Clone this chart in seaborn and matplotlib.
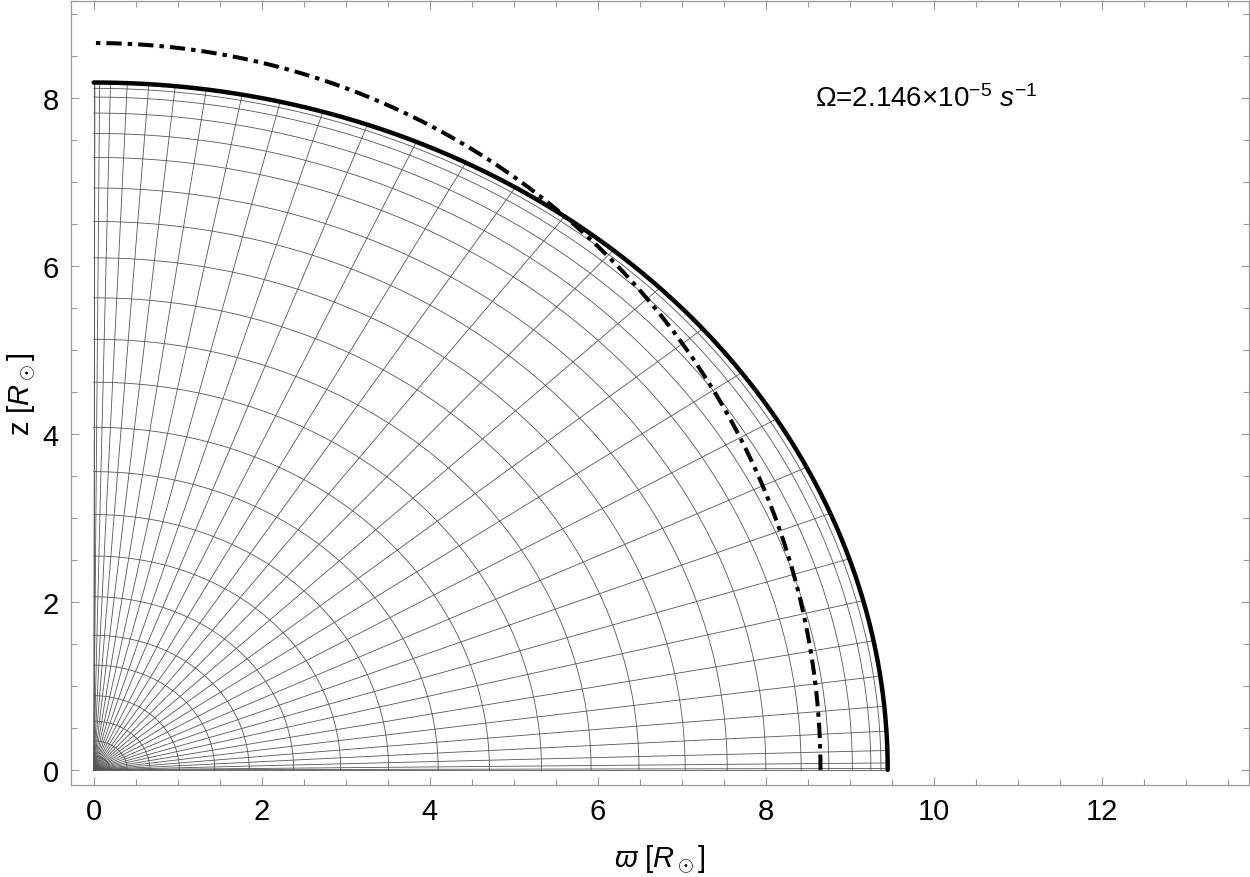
import numpy as np
import pandas as pd
import seaborn as sns
import matplotlib
matplotlib.use("Agg")
import matplotlib.pyplot as plt
from matplotlib.ticker import MultipleLocator

# radii (solar radii)
r_equator = 9.45      # solid surface, equatorial radius
r_pole = 8.18         # solid surface, polar radius
r_sphere = 8.65       # dash-dot circle
omega_label = r"$\Omega$=2.146×10$^{-5}$ $s^{-1}$"

# inner shells, where they cross the equator
shell_r = [0.08, 0.19, 0.40, 0.67, 1.02, 1.44, 1.85, 2.38, 2.94, 3.51, 4.10,
           4.71, 5.33, 5.92, 6.49, 7.04, 7.54, 8.00, 8.42, 8.75, 9.03, 9.25,
           9.37]

# latitude of the radial grid lines (degrees from the equator)
ray_lat = [0.0, 0.1, 0.5, 1.4, 2.8, 4.6, 6.8, 9.4, 12.4, 15.6, 19.2, 23.0,
           27.2, 31.5, 35.9, 40.4, 45.0, 49.6, 54.1, 58.5, 62.8, 67.0, 70.8,
           74.4, 77.6, 80.6, 83.2, 85.4, 87.2, 88.6, 89.5, 89.9, 90.0]


def surface(lat, scale=1.0):
    c, s = np.cos(lat), np.sin(lat)
    r = 1.0 / np.sqrt((c / r_equator) ** 2 + (s / r_pole) ** 2)
    return scale * r * c, scale * r * s


lat = np.linspace(0, np.pi / 2, 400)

rows = []
for i, rr in enumerate(shell_r):
    x, z = surface(lat, rr / r_equator)
    rows.append(pd.DataFrame({"x": x, "z": z, "id": f"s{i}"}))
for i, a in enumerate(ray_lat):
    xe, ze = surface(np.radians(a))
    rows.append(pd.DataFrame({"x": [0, xe], "z": [0, ze], "id": f"r{i}"}))
grid_df = pd.concat(rows, ignore_index=True)

xs, zs = surface(lat)
surf_df = pd.DataFrame({"x": xs, "z": zs})
sph_df = pd.DataFrame({"x": r_sphere * np.cos(lat), "z": r_sphere * np.sin(lat)})

sns.set_theme(style="ticks")
plt.rcParams["font.family"] = ["Liberation Sans", "DejaVu Sans"]
plt.rcParams["mathtext.fontset"] = "custom"
plt.rcParams["mathtext.rm"] = "Liberation Sans"
plt.rcParams["mathtext.it"] = "Liberation Sans:italic"
plt.rcParams["mathtext.sf"] = "Liberation Sans"
plt.rcParams["text.color"] = "black"
plt.rcParams["axes.labelcolor"] = "black"

fig = plt.figure(figsize=(12.5, 8.78), dpi=100)
ax = fig.add_axes([71 / 1250, 1 - 786 / 878, 1178 / 1250, 784 / 878])

sns.lineplot(data=grid_df, x="x", y="z", units="id", estimator=None, sort=False,
             color="#555555", linewidth=0.6, ax=ax)
sns.lineplot(data=sph_df, x="x", y="z", sort=False, color="black",
             linewidth=2.9, ax=ax)
ax.lines[-1].set_dashes([3.8, 1.5, 1.1, 1.5])
ax.lines[-1].set_dash_capstyle("butt")
sns.lineplot(data=surf_df, x="x", y="z", sort=False, color="black",
             linewidth=3.2, ax=ax)

ax.text(8.58, 7.99, omega_label, fontsize=20, va="center", ha="left",
        color="black")

ax.set_xlim(-0.27, 13.75)
ax.set_ylim(-0.18, 9.15)
ax.xaxis.set_major_locator(MultipleLocator(2))
ax.xaxis.set_minor_locator(MultipleLocator(0.5))
ax.yaxis.set_major_locator(MultipleLocator(2))
ax.yaxis.set_minor_locator(MultipleLocator(0.5))
ax.tick_params(which="both", direction="in", top=True, right=True,
               color="#999999", width=0.8, labelsize=21, labelcolor="black")
ax.tick_params(which="major", length=6, pad=9)
ax.tick_params(which="minor", length=4)
for sp in ax.spines.values():
    sp.set_color("#999999")
    sp.set_linewidth(0.9)

ax.set_xlabel(r"$\varpi\ [R_\odot]$", fontsize=21, labelpad=12)
ax.set_ylabel(r"z [$R_\odot$]", fontsize=21, labelpad=3)

fig.savefig("out.png", dpi=100)
